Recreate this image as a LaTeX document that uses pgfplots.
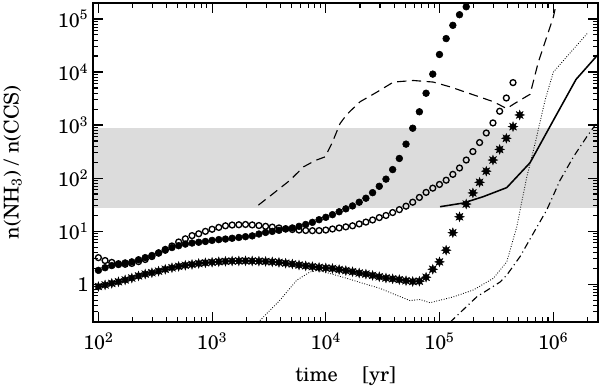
\documentclass[border=0pt]{standalone}
\usepackage{fontspec}
\setmainfont{TeX Gyre Schola}
\usepackage{pgfplots}
\usepackage{pgfplotstable}
\pgfplotsset{compat=1.18}

\definecolor{band}{RGB}{220,220,220}

% eight-pointed filled star, like the IDL symbol
\pgfdeclareplotmark{burst}{%
  \pgfpathmoveto{\pgfpointpolar{0}{\pgfplotmarksize}}%
  \pgfpathlineto{\pgfpointpolar{22.5}{0.5\pgfplotmarksize}}%
  \pgfpathlineto{\pgfpointpolar{45}{\pgfplotmarksize}}%
  \pgfpathlineto{\pgfpointpolar{67.5}{0.5\pgfplotmarksize}}%
  \pgfpathlineto{\pgfpointpolar{90}{\pgfplotmarksize}}%
  \pgfpathlineto{\pgfpointpolar{112.5}{0.5\pgfplotmarksize}}%
  \pgfpathlineto{\pgfpointpolar{135}{\pgfplotmarksize}}%
  \pgfpathlineto{\pgfpointpolar{157.5}{0.5\pgfplotmarksize}}%
  \pgfpathlineto{\pgfpointpolar{180}{\pgfplotmarksize}}%
  \pgfpathlineto{\pgfpointpolar{202.5}{0.5\pgfplotmarksize}}%
  \pgfpathlineto{\pgfpointpolar{225}{\pgfplotmarksize}}%
  \pgfpathlineto{\pgfpointpolar{247.5}{0.5\pgfplotmarksize}}%
  \pgfpathlineto{\pgfpointpolar{270}{\pgfplotmarksize}}%
  \pgfpathlineto{\pgfpointpolar{292.5}{0.5\pgfplotmarksize}}%
  \pgfpathlineto{\pgfpointpolar{315}{\pgfplotmarksize}}%
  \pgfpathlineto{\pgfpointpolar{337.5}{0.5\pgfplotmarksize}}%
  \pgfpathclose
  \pgfusepathqfillstroke}

% ratio series on a log time grid (17 points per decade)
\pgfplotstableread{
t       filled   open    star
100     1.820    3.162   0.9016
114.5   2.042    2.786   0.9661
131.1   2.239    2.570   1.035
150.1   2.344    2.427   1.109
171.9   2.512    2.371   1.202
196.8   2.630    2.455   1.303
225.4   2.884    2.661   1.429
258.1   3.162    2.917   1.549
295.5   3.467    3.311   1.641
338.4   3.890    3.846   1.758
387.5   4.365    4.519   1.905
443.6   4.898    5.248   2.042
508.0   5.309    6.237   2.163
581.7   5.689    7.161   2.265
666.0   5.957    8.222   2.355
762.6   6.166    8.913   2.455
873.3   6.383    9.886   2.529
1000    6.683    10.84   2.588
1145    6.918    11.75   2.649
1311    7.079    12.59   2.692
1501    7.328    13.03   2.723
1719    7.586    13.18   2.742
1968    7.852    13.34   2.754
2254    8.128    13.09   2.735
2581    8.810    12.74   2.710
2955    9.441    12.30   2.679
3384    9.886    11.89   2.630
3875    10.35    11.48   2.570
4436    10.96    11.09   2.483
5080    11.48    10.72   2.399
5817    12.30    10.47   2.291
6660    13.34    10.28   2.213
7626    14.62    10.19   2.138
8733    16.41    10.23   2.065
10000   18.20    10.47   2.018
11450   20.42    10.96   1.972
13110   23.17    11.48   1.884
15010   26.30    12.02   1.799
17190   29.85    12.59   1.718
19680   35.08    13.65   1.622
22540   41.69    14.79   1.549
25810   53.09    16.22   1.462
29550   69.98    17.99   1.380
33840   95.50    19.72   1.303
38750   144.5    22.39   1.259
44360   234.4    25.41   1.216
50800   436.5    29.51   1.161
58170   871.0    35.08   1.122
66600   1778     43.15   1.135
76260   3981     53.70   1.349
87330   9120     64.57   1.905
100000  21380    75.86   2.630
114500  42660    91.20   4.365
131100  75860    117.5   9.333
150100  120200   154.9   18.62
171900  169800   218.8   32.36
196800  nan      316.2   52.48
225400  nan      467.7   83.18
258100  nan      707.9   134.9
295500  nan      1096    218.8
338400  nan      1820    346.7
387500  nan      3236    562.3
443600  nan      6310    933.3
508000  nan      nan     1549
}\markers

\begin{document}
\begin{tikzpicture}
\path[use as bounding box] (-2.33,-1.71) rectangle (12.67,8.045);
\begin{axis}[
    at={(0,0)}, anchor=south west,
    width=12.62cm, height=7.97cm, scale only axis,
    xmode=log, ymode=log,
    xmin=90, xmax=2.48e6,
    ymin=0.195, ymax=2.0e5,
    axis on top,
    axis line style={line width=1.1pt},
    every tick/.style={black, line width=0.8pt},
    major tick length=0.25cm,
    minor tick length=0.13cm,
    xtick={100,1000,10000,100000,1000000},
    xticklabels={10\textsuperscript{2},10\textsuperscript{3},10\textsuperscript{4},10\textsuperscript{5},10\textsuperscript{6}},
    minor xtick={200,300,400,500,600,700,800,900,2000,3000,4000,5000,6000,7000,8000,9000,20000,30000,40000,50000,60000,70000,80000,90000,200000,300000,400000,500000,600000,700000,800000,900000,2000000},
    ytick={1,10,100,1000,10000,100000},
    yticklabels={1,10\textsuperscript{1},10\textsuperscript{2},10\textsuperscript{3},10\textsuperscript{4},10\textsuperscript{5}},
    minor ytick={0.2,0.3,0.4,0.5,0.6,0.7,0.8,0.9,2,3,4,5,6,7,8,9,20,30,40,50,60,70,80,90,200,300,400,500,600,700,800,900,2000,3000,4000,5000,6000,7000,8000,9000,20000,30000,40000,50000,60000,70000,80000,90000},
    tick label style={font=\fontsize{14}{16}\selectfont},
    xticklabel style={yshift=-0.15cm},
    xlabel={time\hspace{1.2em}[yr]},
    ylabel={n(NH\textsubscript{3}) / n(CCS)},
    every axis x label/.style={at={(axis description cs:0.5,0)}, yshift=-1.36cm, anchor=center, font=\fontsize{14.5}{16}\selectfont},
    every axis y label/.style={at={(axis description cs:0,0.5)}, xshift=-2.01cm, rotate=90, anchor=center, font=\fontsize{14.5}{16}\selectfont},
]

% observed range
\addplot[draw=none, fill=band, forget plot] coordinates {(80,27) (3e6,27) (3e6,880) (80,880)} -- cycle;

% dashed model
\addplot[black, line width=0.8pt, dash pattern=on 6.5pt off 4pt] coordinates {
  (2553,30.90) (3459,51.29) (4853,91.20) (6353,162.2) (8054,213.8)
  (9863,251.2) (11300,446.7) (13370,1072) (15310,1585) (20050,2754)
  (28120,4169) (39360,6457) (58880,6918) (88310,6457) (123900,5248)
  (198600,3715) (297900,2754) (390800,2042) (452900,2512) (626600,3802)
  (741300,15490) (1005000,109600) (1081000,223900)
};

% solid model
\addplot[black, line width=1.1pt] coordinates {
  (101200,28.84) (162200,33.88) (243200,44.67) (390800,66.07)
  (626600,195.0) (1005000,1230) (1589000,7244) (2483000,21380)
};

% dotted model
\addplot[black, line width=0.6pt, dash pattern=on 0.6pt off 1.2pt] coordinates {
  (2541,0.1905) (2825,0.2399) (3963,0.5012) (5559,1.189) (7278,1.698)
  (8551,1.820) (10910,1.585) (15310,1.288) (21430,1.030) (30060,0.8318)
  (42070,0.6166) (55080,0.4898) (67450,0.5129) (82600,0.4467) (132400,0.5754)
  (198600,0.7762) (297900,1.288) (390800,2.630) (478600,12.02) (586100,104.7)
  (693400,446.7) (849200,2951) (1005000,10000) (2000000,53700)
};

% dash-dotted model
\addplot[black, line width=0.8pt, dash pattern=on 5pt off 2.5pt on 0.8pt off 2.5pt] coordinates {
  (123900,0.1905) (132400,0.2188) (212800,0.5754) (341200,1.096) (390800,1.479)
  (511700,3.311) (669900,9.120) (879000,25.12) (1151000,91.20) (1507000,251.2)
  (1977000,602.6) (2382000,1047)
};

% marker series
\addplot[only marks, mark=*, mark size=2.4pt, black] table[x=t, y=filled] {\markers};
\addplot[only marks, mark=o, mark size=2.1pt, black, mark options={line width=0.95pt, fill=white}] table[x=t, y=open] {\markers};
\addplot[only marks, mark=burst, mark size=3.4pt, black, mark options={line width=0.3pt}] table[x=t, y=star] {\markers};

\end{axis}
\end{tikzpicture}
\end{document}
